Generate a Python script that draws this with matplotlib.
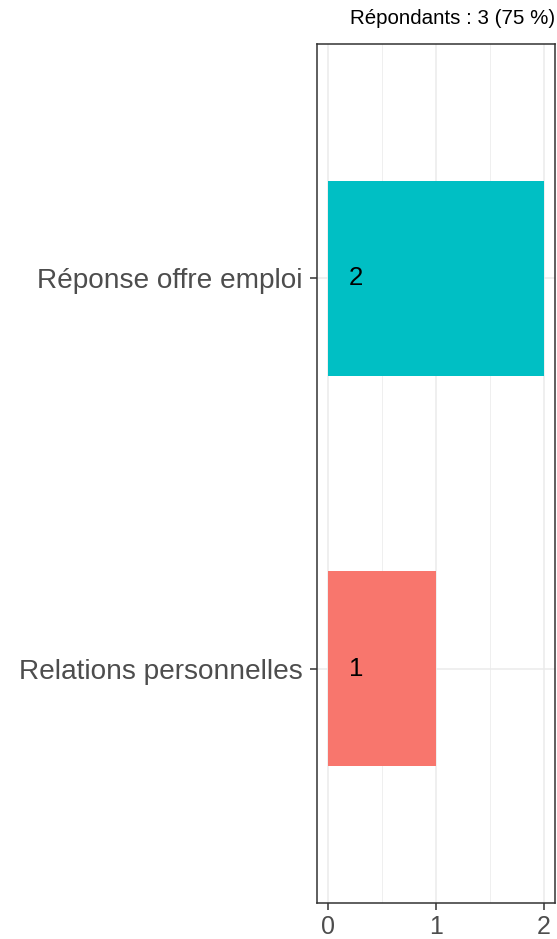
import matplotlib
matplotlib.use("Agg")
import matplotlib.pyplot as plt
from matplotlib.ticker import MultipleLocator

plt.rcParams['font.family'] = ['Liberation Sans', 'DejaVu Sans']

categories = ["Relations personnelles", "Réponse offre emploi"]
counts = [1, 2]
colors = ["#F8766D", "#00BFC4"]
x_ticks = [0, 1, 2]
subtitle = "Répondants : 3 (75 %)"

fig = plt.figure(figsize=(5.57, 9.39), dpi=100)
ax = fig.add_axes([317 / 557, 36 / 939, 238 / 557, 859 / 939])

ypos = list(range(len(categories)))
ax.barh(ypos, counts, height=0.5, color=colors, zorder=3)
for y, v in zip(ypos, counts):
    ax.text(0.26, y, str(v), ha="center", va="center", fontsize=18.5, color="black", zorder=4)

ax.set_xlim(-0.1, 2.1)
ax.set_ylim(-0.6, 1.6)
ax.set_xticks(x_ticks)
ax.set_xticklabels([str(t) for t in x_ticks])
ax.xaxis.set_minor_locator(MultipleLocator(0.5))
ax.set_yticks(ypos)
ax.set_yticklabels(categories)

ax.grid(which="major", axis="both", color="#EBEBEB", linewidth=1.1, zorder=0)
ax.grid(which="minor", axis="x", color="#EBEBEB", linewidth=0.55, zorder=0)
ax.tick_params(axis="both", which="major", length=5, width=1.1, color="#333333",
               labelcolor="#4D4D4D", labelsize=18)
ax.tick_params(axis="y", labelsize=20.2, pad=5.5)
ax.tick_params(axis="x", pad=4)
ax.tick_params(which="minor", length=0)
for s in ax.spines.values():
    s.set_color("#333333")
    s.set_linewidth(1.1)

fig.text(555 / 557, 1 - 19 / 939, subtitle, ha="right", va="center", fontsize=14.8, color="black")

fig.savefig("out.png", dpi=100)
